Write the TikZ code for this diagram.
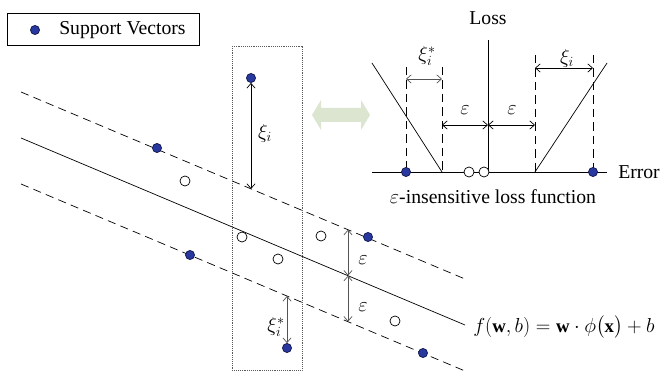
\documentclass[tikz,border=0pt]{standalone}
\usepackage{amsmath,amssymb}
\usepackage{fontspec}
\setmainfont{Liberation Serif}
\usepackage{xcolor}
\usepackage{tikz}
\usetikzlibrary{arrows.meta}
\definecolor{svblue}{rgb}{0.16,0.22,0.62}
\definecolor{svedge}{rgb}{0.05,0.08,0.30}
\definecolor{palegreen}{rgb}{0.86,0.90,0.81}
\definecolor{dimgray}{rgb}{0.33,0.33,0.33}
\tikzset{
  sv/.style={circle,draw=svedge,fill=svblue,minimum size=7.8pt,inner sep=0pt},
  nsv/.style={circle,draw=black,fill=white,minimum size=8.6pt,inner sep=0pt},
  margin/.style={dash pattern=on 7pt off 4.5pt},
  dimarrow/.style={{Straight Barb[length=4pt,width=7pt]}-{Straight Barb[length=4pt,width=7pt]}},
}

\begin{document}
\begin{tikzpicture}[x=0.03cm,y=-0.03cm,line width=0.6pt,
    font=\fontsize{16.8}{20}\selectfont]
        \useasboundingbox (0,0) rectangle (661,372);
        % ---- legend ----
        \draw (7,13) rectangle (199,45);
        \node[sv] (legdot) at (35,30) {};
        \node[right] (legtxt) at (55,30) {Support Vectors};
        % ---- regression tube ----
        \coordinate (mA) at (21,138);  \coordinate (mB) at (465,325);
        \coordinate (uA) at (21,92);   \coordinate (uB) at (465,279);
        \coordinate (lA) at (21,184);  \coordinate (lB) at (465,371);
        \draw (mA)--(mB);
        \draw[margin] (uA)--(uB);
        \draw[margin] (lA)--(lB);
        % ---- selected slice ----
        \draw[densely dotted,gray!70!black] (232,46) rectangle (302,370);
        % ---- data points ----
        \foreach \p [count=\i] in {(157,148),(368,237),(190,255),(423,353)} {
          \node[sv] (sv\i) at \p {};
        }
        \node[sv] (svtop) at (251,78) {};
        \node[sv] (svlow) at (287,348) {};
        \foreach \p [count=\i] in {(185,181),(242,237),(278,259),(321,236),(395,321)} {
          \node[nsv] (pt\i) at \p {};
        }
        % ---- slack and tube width ----
        \coordinate (xiU) at (251,189);
        \coordinate (xiL) at (287,296);
        \draw[dimarrow] (svtop.south)--(xiU);
        \draw[dimarrow,dimgray] (xiL)--(svlow.north);
        \coordinate (eU) at (348,229.7);
        \coordinate (eM) at (348,275.7);
        \coordinate (eL) at (348,321.7);
        \draw[dimarrow,dimgray] (eU)--(eM);
        \draw[dimarrow,dimgray] (eM)--(eL);
        \node (xilbl) at (265,133) {$\xi_i$};
        \node (xislbl) at (276,327) {$\xi_i^*$};
        \node (eulbl) at (363,260) {$\varepsilon$};
        \node (ellbl) at (363,307) {$\varepsilon$};
        \node[right,font=\fontsize{16}{19}\selectfont] (fxlbl) at (469,327)
            {$f(\mathbf{w},b)=\mathbf{w}\cdot\phi\bigl(\mathbf{x}\bigr)+b$};
        % ---- correspondence arrow ----
        \fill[palegreen] (312,115)--(321,100)--(321,108)--(361,108)--(361,100)
            --(370,115)--(361,130)--(361,122)--(321,122)--(321,130)--cycle;
        % ---- loss function axes ----
        \coordinate (axL) at (372,172);
        \coordinate (axR) at (607,172);
        \coordinate (org) at (488,172);
        \coordinate (axT) at (488,40);
        \draw (axL)--(axR);
        \draw (org)--(axT);
        \node (losslbl) at (488,18) {Loss};
        \node[right] (errlbl) at (614,172) {Error};
        % ---- loss branches ----
        \coordinate (kL) at (442,172);
        \coordinate (kR) at (535,172);
        \draw (372,63)--(kL);
        \draw (kR)--(607,63);
        \foreach \x/\t in {406/67,442/67,535/55,593/55} {
          \draw[margin] (\x,\t)--(\x,172);
        }
        \node[sv] (rsv1) at (406,172) {};
        \node[sv] (rsv2) at (593,172) {};
        \node[nsv] (rpt1) at (469,172) {};
        \node[nsv] (rpt2) at (484,172) {};
        % ---- loss dimensions ----
        \draw[dimarrow,dimgray] (406,79)--(442,79);
        \draw[dimarrow] (442,125)--(488,125);
        \draw[dimarrow] (488,125)--(535,125);
        \draw[dimarrow] (535,68)--(593,68);
        \node (rxislbl) at (427,56) {$\xi_i^*$};
        \node (rxilbl) at (567,58) {$\xi_i$};
        \node (relbl1) at (465,110) {$\varepsilon$};
        \node (relbl2) at (512,110) {$\varepsilon$};
        \node (inslbl) at (493,197) {$\varepsilon$-insensitive loss function};
      \end{tikzpicture}
\end{document}
